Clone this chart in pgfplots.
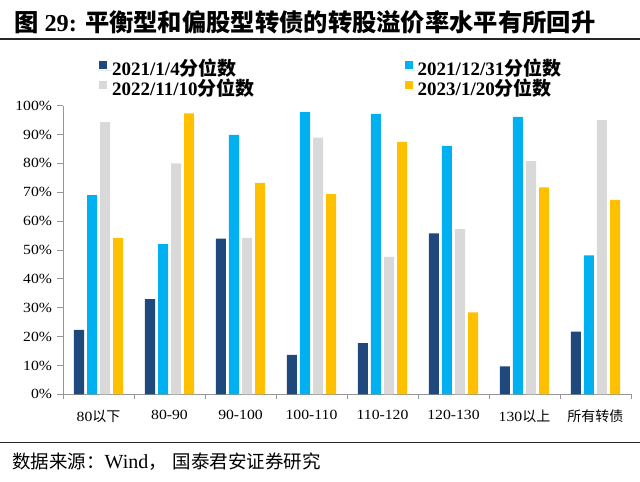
\documentclass[border=0pt]{standalone}
\usepackage{fontspec}
\setmainfont{Liberation Serif}
\newfontfamily\cjk{Noto Sans CJK SC}
\newfontfamily\tickfont[FakeStretch=1.12]{Liberation Serif}
\usepackage{pgfplots}
\pgfplotsset{compat=1.18}
\definecolor{cA}{RGB}{31,73,125}
\definecolor{cB}{RGB}{0,176,240}
\definecolor{cC}{RGB}{217,217,217}
\definecolor{cD}{RGB}{255,192,0}
\definecolor{axgray}{RGB}{150,150,150}
\pgfplotsset{sqlegend/.style={legend image code/.code={\path (0pt,0pt) -- (13pt,0pt);\fill[##1,draw=none] (0pt,1.5pt) rectangle (8pt,9.5pt);}}}
\begin{document}
\begin{tikzpicture}[x=1pt,y=1pt]
\path[use as bounding box] (0,0) rectangle (640,482);
\node[anchor=west, inner sep=0, font=\bfseries\fontsize{24.3}{28}\selectfont] at (14,460) {{\cjk 图} 29: {\cjk 平衡型和偏股型转债的转股溢价率水平有所回升}};
\draw[line width=1.6pt, black!85] (0,443) -- (640,443);
\begin{axis}[
  at={(63pt,87.7pt)}, anchor=south west, scale only axis,
  width=568pt, height=288.6pt,
  xmin=-0.5, xmax=7.5, ymin=0, ymax=100,
  axis x line*=bottom, axis y line*=left,
  axis line style={draw=axgray, line width=0.8pt, -},
  ybar=3pt, bar width=10pt,
  xtick={0,...,7},
  xticklabels={{80{\cjk 以下}},80-90,90-100,100-110,110-120,120-130,{130{\cjk 以上}},{\cjk 所有转债}},
  major x tick style={draw=none},
  minor xtick={-0.5,0.5,...,7.5},
  minor tick length=5pt, major tick length=6pt,
  tick align=outside,
  tick style={draw=axgray, line width=0.8pt},
  ytick={0,10,...,100},
  yticklabels={0\%,10\%,20\%,30\%,40\%,50\%,60\%,70\%,80\%,90\%,100\%},
  yticklabel style={font=\tickfont\fontsize{14}{16}\selectfont, xshift=-1.5pt},
  xticklabel style={font=\tickfont\fontsize{14}{16}\selectfont, yshift=-6pt},
  legend columns=2,
  legend cell align=left,
  legend style={draw=none, fill=none, at={(0.0634,1.156)}, anchor=north west,
    font=\bfseries\fontsize{19}{20}\selectfont, inner sep=0pt, column sep=0pt, row sep=0pt,
    nodes={inner sep=0pt, text height=15pt, text depth=5pt},
    /tikz/every even column/.append style={column sep=150pt}},
]
\addplot[fill=cA, draw=none, sqlegend] coordinates {(0,22.3) (1,33.0) (2,53.9) (3,13.7) (4,17.7) (5,55.8) (6,9.7) (7,21.7)};
\addlegendentry{2021/1/4{\cjk 分位数}}
\addplot[fill=cB, draw=none, sqlegend] coordinates {(0,69.0) (1,52.0) (2,89.9) (3,97.8) (4,97.2) (5,86.1) (6,96.1) (7,48.1)};
\addlegendentry{2021/12/31{\cjk 分位数}}
\addplot[fill=cC, draw=none, sqlegend] coordinates {(0,94.3) (1,80.0) (2,54.2) (3,88.9) (4,47.6) (5,57.2) (6,80.8) (7,95.0)};
\addlegendentry{2022/11/10{\cjk 分位数}}
\addplot[fill=cD, draw=none, sqlegend] coordinates {(0,54.2) (1,97.3) (2,73.3) (3,69.4) (4,87.5) (5,28.4) (6,71.7) (7,67.4)};
\addlegendentry{2023/1/20{\cjk 分位数}}
\end{axis}
\draw[line width=1.6pt, black!85] (0,39.3) -- (640,39.3);
\node[anchor=west, inner sep=0] at (12,20) {{\cjk\fontsize{18.5}{20}\selectfont 数据来源：}{\fontsize{20}{20}\selectfont Wind}{\cjk\fontsize{18.5}{20}\selectfont ，\hspace{6pt}国泰君安证券研究}};
\end{tikzpicture}
\end{document}
